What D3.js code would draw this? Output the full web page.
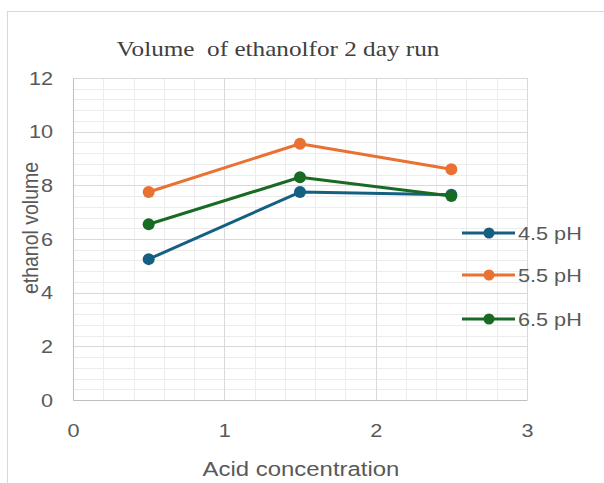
<!DOCTYPE html>
<html>
<head>
<meta charset="utf-8">
<script src="https://cdn.jsdelivr.net/npm/d3@7"></script>
<style>
  html, body { margin: 0; padding: 0; background: #fff; }
  svg { display: block; }
</style>
</head>
<body>
<svg id="chart" width="604" height="483"></svg>
<script>
// Acid concentration levels (x) and ethanol volume for each pH series
const acidConcentration = [0.5, 1.5, 2.5];
const ph45 = [5.25, 7.75, 7.65];
const ph55 = [7.75, 9.55, 8.6];
const ph65 = [6.55, 8.3, 7.6];
const seriesNames = ["4.5 pH", "5.5 pH", "6.5 pH"];
const xTicks = [0, 1, 2, 3];
const yTicks = [0, 2, 4, 6, 8, 10, 12];

const seriesColors = ["#156082", "#E97132", "#196B24"];
const seriesData = [ph45, ph55, ph65];

const svg = d3.select("#chart");
const plot = { left: 73, right: 527, top: 78, bottom: 400 };
const sans = "'Liberation Sans', Arial, sans-serif";
const textColor = "#595959";
const wide = 1.14; // horizontal widening of text glyphs

// outer chart frame
svg.append("rect")
  .attr("x", 7.5).attr("y", 11.5)
  .attr("width", 620).attr("height", 500)
  .attr("fill", "#fff").attr("stroke", "#d9d9d9").attr("stroke-width", 1);

const x = d3.scaleLinear().domain([0, 3]).range([plot.left, plot.right]);
const y = d3.scaleLinear().domain([0, 12]).range([plot.bottom, plot.top]);

// minor gridlines
const grid = svg.append("g");
const minorX = d3.range(0, 3.0001, 0.2);
const minorY = d3.range(0, 12.0001, 0.4);
grid.selectAll("line.mx").data(minorX).join("line")
  .attr("x1", d => Math.round(x(d)) + 0.5).attr("x2", d => Math.round(x(d)) + 0.5)
  .attr("y1", plot.top).attr("y2", plot.bottom)
  .attr("stroke", "#ececec").attr("stroke-width", 1);
grid.selectAll("line.my").data(minorY).join("line")
  .attr("y1", d => Math.round(y(d)) + 0.5).attr("y2", d => Math.round(y(d)) + 0.5)
  .attr("x1", plot.left).attr("x2", plot.right)
  .attr("stroke", "#ececec").attr("stroke-width", 1);

// major gridlines
grid.selectAll("line.Mx").data(xTicks).join("line")
  .attr("x1", d => Math.round(x(d)) + 0.5).attr("x2", d => Math.round(x(d)) + 0.5)
  .attr("y1", plot.top).attr("y2", plot.bottom)
  .attr("stroke", "#d9d9d9").attr("stroke-width", 1);
grid.selectAll("line.My").data(yTicks).join("line")
  .attr("y1", d => Math.round(y(d)) + 0.5).attr("y2", d => Math.round(y(d)) + 0.5)
  .attr("x1", plot.left).attr("x2", plot.right)
  .attr("stroke", "#d9d9d9").attr("stroke-width", 1);

// axes
const xAxis = svg.append("g")
  .attr("transform", `translate(0,${plot.bottom})`)
  .call(d3.axisBottom(x).tickValues(xTicks).tickFormat(d3.format("d")).tickSize(0).tickPadding(24));
xAxis.select(".domain").attr("stroke", "#bfbfbf");
xAxis.selectAll("text")
  .attr("fill", textColor)
  .attr("transform", `scale(${wide},1)`)
  .style("font", `19px ${sans}`);

const yAxis = svg.append("g")
  .attr("transform", `translate(${plot.left},0)`)
  .call(d3.axisLeft(y).tickValues(yTicks).tickFormat(d3.format("d")).tickSize(0).tickPadding(0));
yAxis.select(".domain").attr("stroke", "#bfbfbf");
yAxis.selectAll("text")
  .attr("fill", textColor)
  .attr("x", 0)
  .attr("transform", `translate(-20,0) scale(${wide},1)`)
  .style("font", `19px ${sans}`);

// series lines and markers
const line = d3.line().x((d, i) => x(acidConcentration[i])).y(d => y(d));
seriesData.forEach((vals, s) => {
  svg.append("path")
    .attr("d", line(vals))
    .attr("fill", "none")
    .attr("stroke", seriesColors[s])
    .attr("stroke-width", 3)
    .attr("stroke-linejoin", "round");
  svg.selectAll(null).data(vals).join("circle")
    .attr("cx", (d, i) => x(acidConcentration[i]))
    .attr("cy", d => y(d))
    .attr("r", 6)
    .attr("fill", seriesColors[s]);
});

// title
svg.append("text")
  .attr("transform", "translate(278,56) scale(1.2,1)")
  .attr("text-anchor", "middle")
  .attr("fill", "#404040")
  .style("font", "21px 'Liberation Serif', 'Times New Roman', serif")
  .style("white-space", "pre")
  .text("Volume  of ethanolfor 2 day run");

// axis titles
svg.append("text")
  .attr("transform", `translate(301,476) scale(${wide},1)`)
  .attr("text-anchor", "middle")
  .attr("fill", textColor)
  .style("font", `21px ${sans}`)
  .text("Acid concentration");

svg.append("text")
  .attr("transform", `translate(38,228) rotate(-90) scale(1,${wide})`)
  .attr("text-anchor", "middle")
  .attr("fill", textColor)
  .style("font", `19.5px ${sans}`)
  .text("ethanol volume");

// legend
const legendY = [233, 275, 319];
seriesNames.forEach((name, s) => {
  const g = svg.append("g").attr("transform", `translate(0,${legendY[s]})`);
  g.append("line").attr("x1", 462).attr("x2", 515).attr("y1", 0).attr("y2", 0)
    .attr("stroke", seriesColors[s]).attr("stroke-width", 3);
  g.append("circle").attr("cx", 489).attr("cy", 0).attr("r", 5.5).attr("fill", seriesColors[s]);
  g.append("text")
    .attr("transform", `translate(518,7) scale(${wide},1)`)
    .attr("fill", textColor)
    .style("font", `19px ${sans}`)
    .text(name);
});
</script>
</body>
</html>
